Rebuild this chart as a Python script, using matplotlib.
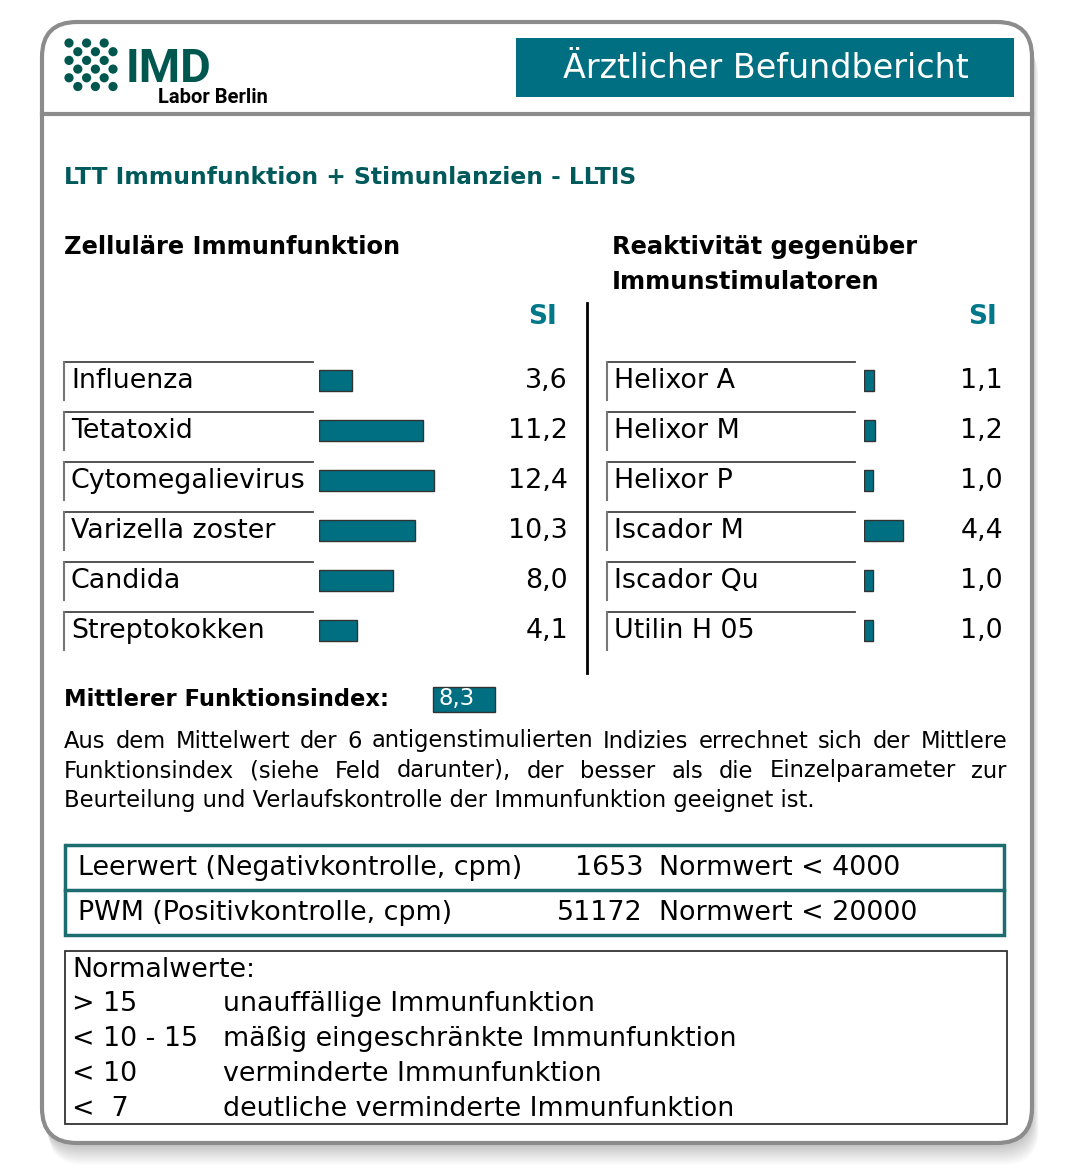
import numpy as np
import matplotlib.pyplot as plt
from matplotlib.patches import FancyBboxPatch, Rectangle, Circle

W, H = 1077, 1171

cell_labels = ["Influenza", "Tetatoxid", "Cytomegalievirus", "Varizella zoster",
               "Candida", "Streptokokken"]
cell_si = [3.6, 11.2, 12.4, 10.3, 8.0, 4.1]

stim_labels = ["Helixor A", "Helixor M", "Helixor P", "Iscador M",
               "Iscador Qu", "Utilin H 05"]
stim_si = [1.1, 1.2, 1.0, 4.4, 1.0, 1.0]

control_names = ["Leerwert (Negativkontrolle, cpm)", "PWM (Positivkontrolle, cpm)"]
control_cpm = [1653, 51172]
control_norm = ["Normwert < 4000", "Normwert < 20000"]

norm_ranges = ["> 15", "< 10 - 15", "< 10", "<  7"]
norm_texts = ["unauffällige Immunfunktion", "mäßig eingeschränkte Immunfunktion",
              "verminderte Immunfunktion", "deutliche verminderte Immunfunktion"]

paragraph = [
    "Aus dem Mittelwert der 6 antigenstimulierten Indizies errechnet sich der Mittlere",
    "Funktionsindex (siehe Feld darunter), der besser als  die Einzelparameter zur",
    "Beurteilung und Verlaufskontrolle der Immunfunktion geeignet ist.",
]

TEAL = "#006f82"
SI_TEAL = "#00788a"
DARK = "#00574f"
BODY = "DejaVu Sans"
FS = 19.4


def fmt(v):
    return f"{v:.1f}".replace(".", ",")


fig = plt.figure(figsize=(W / 100, H / 100), dpi=100)
bg = fig.add_axes([0, 0, 1, 1])
bg.set_xlim(0, W)
bg.set_ylim(H, 0)
bg.axis("off")


def px_axes(x0, y0, x1, y1):
    return fig.add_axes([x0 / W, 1 - y1 / H, (x1 - x0) / W, (y1 - y0) / H])


# card with soft shadow
for i in range(12):
    d = 2 + i * 1.8
    bg.add_patch(FancyBboxPatch((42 + d * 0.3, 22 + d), 990, 1121,
                                boxstyle="round,pad=0,rounding_size=35",
                                fc="#000000", ec="none", alpha=0.018))
bg.add_patch(FancyBboxPatch((42, 22), 990, 1121, boxstyle="round,pad=0,rounding_size=35",
                            fc="white", ec="#8c8c8c", lw=3))
bg.plot([42, 1032], [114, 114], color="#8c8c8c", lw=3)

# logo
for r in range(6):
    for c in range(6):
        if (r + c) % 2 == 0:
            bg.add_patch(Circle((69 + c * 8.8, 43 + r * 8.7), 4.6, color=DARK, lw=0))
bg.text(126, 82, "IMD", fontsize=34, fontweight="bold", family="Roboto", color=DARK, va="baseline")
bg.text(158, 103, "Labor Berlin", fontsize=14.5, fontweight="bold", family="Roboto",
        color="black", va="baseline")

# banner
bg.add_patch(Rectangle((516, 38), 498, 59, fc=TEAL, ec="none"))
bg.text(766, 69, "Ärztlicher Befundbericht", fontsize=24, family=BODY,
        color="white", ha="center", va="center")

bg.text(64, 177, "LTT Immunfunktion + Stimunlanzien - LLTIS", fontsize=16.8, fontweight="bold",
        family=BODY, color="#00595a", va="center")
for txt, x, y in [("Zelluläre Immunfunktion", 64, 247), ("Reaktivität gegenüber", 612, 247),
                  ("Immunstimulatoren", 612, 282)]:
    bg.text(x, y, txt, fontsize=17.4, fontweight="bold", family=BODY, color="black", va="center")
for x in (542, 983):
    bg.text(x, 317, "SI", fontsize=19, fontweight="bold", family=BODY, color=SI_TEAL,
            ha="center", va="center")
bg.plot([587, 587], [303, 673], color="black", lw=2)


def panel(labels, values, x_box, x_box_end, x_val, bar_x0, bar_px_per_unit):
    for i, (lab, v) in enumerate(zip(labels, values)):
        yc = 380 + 50 * i
        top = yc - 18
        bg.plot([x_box, x_box_end], [top, top], color="#444444", lw=1.3)
        bg.plot([x_box, x_box], [top, top + 38], color="#777777", lw=1.5)
        bg.text(x_box + 7, yc + 1, lab, fontsize=FS, family=BODY, color="black", va="center")
        bg.text(x_val, yc + 1, fmt(v), fontsize=FS, family=BODY, color="black",
                ha="right", va="center")
    ax = px_axes(bar_x0, 355, bar_x0 + 150, 655)
    ax.barh(np.arange(len(values)), values, height=0.42, color=TEAL, edgecolor="#333333", lw=1)
    ax.set_xlim(0, 150 / bar_px_per_unit)
    ax.set_ylim(len(values) - 0.5, -0.5)
    ax.axis("off")


panel(cell_labels, cell_si, 64, 313, 568, 319, 9.3)
panel(stim_labels, stim_si, 607, 855, 1003, 864, 8.9)

# mean index
mean_index = np.mean(cell_si)
bg.text(64, 700, "Mittlerer Funktionsindex:", fontsize=16.3, fontweight="bold", family=BODY,
        color="black", va="center")
bg.add_patch(Rectangle((433, 687), 62, 25, fc=TEAL, ec="#333333", lw=1))
bg.text(439, 699, fmt(mean_index), fontsize=16.5, family=BODY, color="white", va="center")

# paragraph (first two lines justified)
renderer = fig.canvas.get_renderer()
PFS = 16.3
for k, line in enumerate(paragraph):
    y = 741 + 30 * k
    if k < 2:
        words = line.split()
        objs = [bg.text(0, y, w, fontsize=PFS, family=BODY, color="black", va="center")
                for w in words]
        widths = [o.get_window_extent(renderer).width for o in objs]
        gap = (1007 - 64 - sum(widths)) / (len(words) - 1)
        x = 64
        for o, w in zip(objs, widths):
            o.set_x(x)
            x += w + gap
    else:
        bg.text(64, y, line, fontsize=PFS, family=BODY, color="black", va="center")

# control table
bg.add_patch(Rectangle((65, 845), 939, 90, fc="none", ec="#1d6d70", lw=2.5))
bg.plot([65, 1004], [890, 890], color="#1d6d70", lw=2.5)
for i, (name, cpm, norm) in enumerate(zip(control_names, control_cpm, control_norm)):
    y = 868 + 45 * i
    bg.text(78, y, name, fontsize=FS, family=BODY, color="black", va="center")
    bg.text(643, y, str(cpm), fontsize=FS, family=BODY, color="black", ha="right", va="center")
    bg.text(659, y, norm, fontsize=FS, family=BODY, color="black", va="center")

# normal values
bg.add_patch(Rectangle((65, 951), 942, 173, fc="none", ec="#333333", lw=1.3))
bg.text(72, 970, "Normalwerte:", fontsize=FS, family=BODY, color="black", va="center")
for i, (rng, txt) in enumerate(zip(norm_ranges, norm_texts)):
    y = 1004 + 35 * i
    bg.text(72, y, rng, fontsize=FS, family=BODY, color="black", va="center")
    bg.text(223, y, txt, fontsize=FS, family=BODY, color="black", va="center")

fig.savefig("out.png", dpi=100)
